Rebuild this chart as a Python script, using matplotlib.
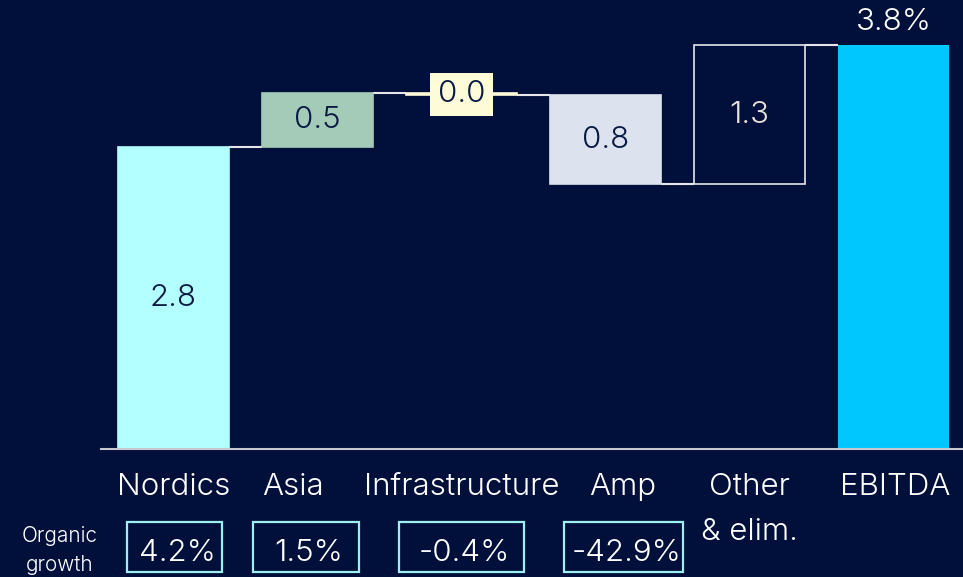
"""
EBITDA margin bridge by segment, with organic growth per segment.
"""
import matplotlib
matplotlib.use("Agg")
import matplotlib.pyplot as plt
from matplotlib.patches import Rectangle
from matplotlib.transforms import blended_transform_factory, offset_copy

# --- data -------------------------------------------------------------
segments = ["Nordics", "Asia", "Infrastructure", "Amp", "Other\n& elim."]
segment_change = [2.84, 0.50, -0.02, -0.83, 1.30]
total_label = "EBITDA"
total_value = 3.79
organic_growth = ["4.2%", "1.5%", "-0.4%", "-42.9%"]

# --- style ------------------------------------------------------------
BG = "#01103a"
NAVY_TEXT = "#0b1a45"
seg_colors = ["#b3ffff", "#a4cbb8", "#fefbd8", "#dde3ee", None]
total_color = "#00c8ff"
LINE = "#e6e6ea"
BOX_EDGE = "#9feef0"
BAR_W = 0.77
FS = 22.5
# horizontal nudge (px) of category names so neighbours don't collide
label_nudge = [0, -24, 0, 17, 0, 2]

plt.rcParams["font.family"] = ["Inter", "DejaVu Sans"]
plt.rcParams["font.weight"] = 300

fig = plt.figure(figsize=(9.63, 5.77), dpi=100, facecolor=BG)
ax = fig.add_axes([101 / 963, 128 / 577, 862 / 963, 449 / 577])
ax.set_facecolor(BG)
ax.set_xlim(-0.503, 5.483)
ax.set_ylim(0, 4.216)

# overlay in pixel units for the annotation block under the axis
ov = fig.add_axes([0, 0, 1, 1], zorder=-1)
ov.set_xlim(0, 963)
ov.set_ylim(577, 0)
ov.axis("off")
ov.patch.set_alpha(0)
xpix = blended_transform_factory(ax.transData, ov.transData)

# --- waterfall ----------------------------------------------------------
level = 0.0
ends = []
for i, (chg, col) in enumerate(zip(segment_change, seg_colors)):
    bottom = level
    if col is None:
        ax.bar(i, chg, bottom=bottom, width=BAR_W, facecolor="none",
               edgecolor=LINE, linewidth=1.2, zorder=2)
    else:
        ax.bar(i, chg, bottom=bottom, width=BAR_W, color=col,
               edgecolor=col, linewidth=1.2, zorder=2)
    level += chg
    ends.append(level)

    mid = bottom + chg / 2
    txt = f"{abs(chg):.1f}"
    if abs(chg) < 0.1:
        ax.text(i, mid, txt, ha="center", va="center", fontsize=FS,
                color=NAVY_TEXT, zorder=4,
                bbox=dict(boxstyle="square,pad=0.24", fc=col, ec="none"))
    else:
        tcol = "#e8e2da" if col is None else NAVY_TEXT
        ax.text(i, mid, txt, ha="center", va="center", fontsize=FS,
                color=tcol, zorder=4)

n = len(segments)
ax.bar(n, total_value, width=BAR_W, color=total_color, zorder=2)
ax.text(n, total_value + 0.09, f"{total_value:.1f}%", ha="center",
        va="bottom", fontsize=FS, color="white")

# connectors between neighbouring bars
for i, lvl in enumerate(ends):
    ax.plot([i + BAR_W / 2, i + 1 - BAR_W / 2], [lvl, lvl],
            color=LINE, linewidth=1.5, zorder=1, solid_capstyle="butt")

# axis line
for side in ["top", "right", "left"]:
    ax.spines[side].set_visible(False)
ax.spines["bottom"].set_color("#c8c8d2")
ax.spines["bottom"].set_linewidth(1.5)
ax.set_xticks([])
ax.set_yticks([])

# --- category labels ----------------------------------------------------
for i, name in enumerate(segments + [total_label]):
    tr = offset_copy(xpix, fig=fig, x=label_nudge[i], y=0, units="dots")
    for k, ln in enumerate(name.split("\n")):
        ax.text(i, 495 + 45 * k, ln, transform=tr, ha="center",
                va="baseline", fontsize=FS, color="white")

# --- organic growth row -------------------------------------------------
ov.text(60, 542, "Organic", ha="center", va="baseline", fontsize=15,
        color="white")
ov.text(60, 571, "growth", ha="center", va="baseline", fontsize=15,
        color="white")

box_spans = [(127, 222), (253, 359), (399, 524), (564, 683)]
for (x0, x1), g in zip(box_spans, organic_growth):
    ov.add_patch(Rectangle((x0, 522), x1 - x0, 50, fill=False,
                           edgecolor=BOX_EDGE, linewidth=1.6))
    ov.text((x0 + x1) / 2 + 3, 561, g, ha="center", va="baseline",
            fontsize=FS, color="white")

fig.savefig("out.png", dpi=100, facecolor=BG)
